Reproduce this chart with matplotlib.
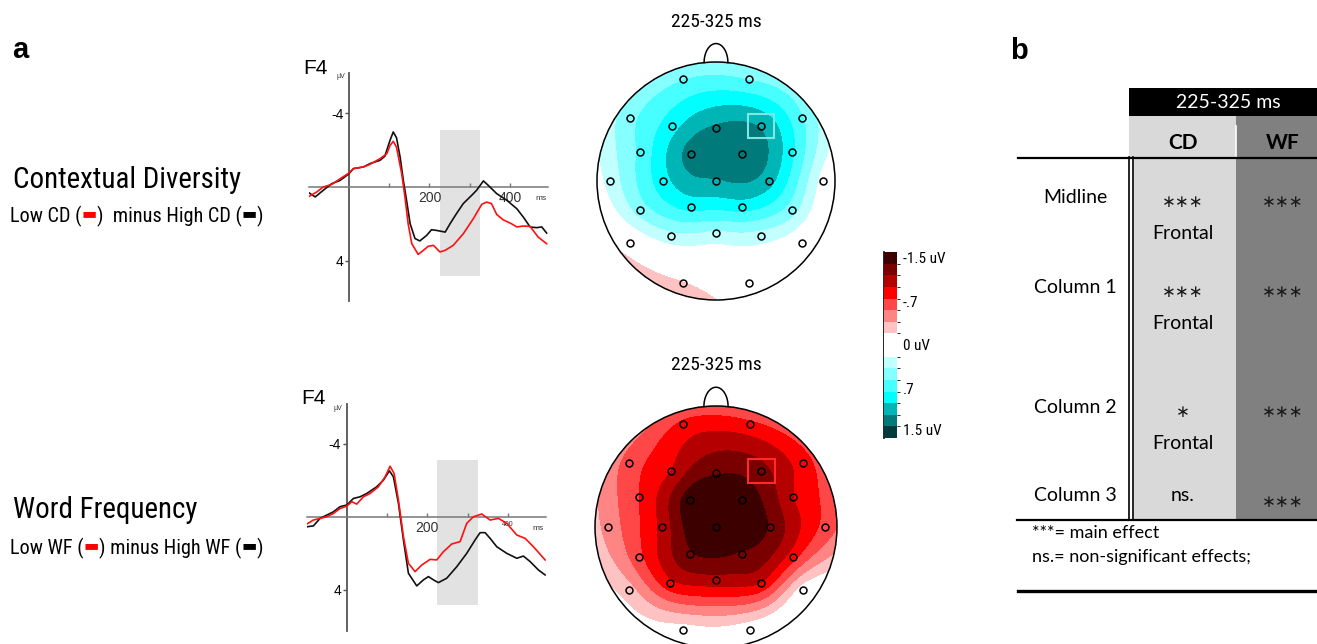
import numpy as np
import matplotlib
matplotlib.use("Agg")
from matplotlib import pyplot as plt
from matplotlib import font_manager as fm
from matplotlib.colors import ListedColormap, BoundaryNorm
from matplotlib.patches import Circle, Rectangle
from matplotlib.cm import ScalarMappable

W, H = 1317, 644

_names = {f.name for f in fm.fontManager.ttflist}
NARROW = ["DejaVu Sans"]
for cand in ["Liberation Sans Narrow", "Arial Narrow", "Roboto Condensed", "Open Sans Condensed",
             "Liberation Sans"]:
    if cand in _names:
        NARROW = [cand, "DejaVu Sans"]
        break
ARIAL = ["Liberation Sans", "DejaVu Sans"]
TABLE = ["Lato", "DejaVu Sans"]

# ---- ERP at F4 (ms, uV); negative plotted up ----
cd_high_ms = [-98.5, -84, -64, -43, -22, 0, 11, 36, 52, 77, 89, 102, 110, 118, 127, 135, 143, 152, 164,
              176, 193, 205, 218, 239, 251, 267, 284, 305, 317, 334, 346, 367, 392, 417, 433, 450, 466, 479, 491]
cd_high_uv = [0.33, 0.54, 0.18, -0.18, -0.36, -0.72, -1.0, -1.09, -1.27, -1.45, -1.67, -2.54, -2.99, -2.68,
              -1.63, -0.36, 0.72, 2.0, 2.8, 2.93, 2.63, 2.32, 2.36, 2.45, 2.0, 1.45, 0.9, 0.45, 0.18, -0.33,
              -0.09, 0.36, 0.72, 1.18, 1.63, 2.17, 2.21, 2.17, 2.5]
cd_low_ms = [-98.5, -80, -64, -43, -22, 0, 11, 36, 52, 77, 94, 102, 110, 118, 131, 139, 147, 156, 172, 185,
             197, 210, 226, 239, 259, 284, 309, 330, 342, 354, 367, 383, 404, 417, 433, 450, 470, 491]
cd_low_uv = [0.5, 0.27, 0, -0.14, -0.45, -0.76, -1.0, -1.09, -1.23, -1.54, -1.81, -2.26, -2.48, -2.17, -0.72,
             0.54, 2.0, 3.08, 3.66, 3.44, 3.22, 3.17, 3.53, 3.44, 3.17, 2.54, 1.72, 0.94, 0.82, 0.9, 1.49,
             1.78, 2.0, 2.17, 2.12, 2.14, 2.72, 3.08]

wf_high_ms = [-99.4, -82.8, -66.3, -49.7, -33.1, -16.6, 0, 16.6, 33.1, 49.7, 74.5, 91.1, 106, 115.9, 128.4,
              140.8, 153.2, 173.9, 190.5, 202.9, 215.3, 227.7, 248.4, 273.3, 298.1, 318.8, 331.3, 343.7,
              356.1, 372.7, 397.5, 422.4, 438.9, 455.5, 476.2, 492.8]
wf_high_uv = [0.55, 0.5, 0.09, -0.09, -0.27, -0.55, -0.64, -1.0, -1.09, -1.27, -1.64, -2.0, -2.51, -2.18,
              -0.73, 1.27, 3.09, 3.78, 3.45, 3.27, 3.45, 3.6, 3.36, 2.73, 2.0, 1.27, 0.87, 0.87, 1.18, 1.64,
              2.0, 2.27, 2.15, 2.45, 2.91, 3.18]
wf_low_ms = [-99.4, -82.8, -66.3, -49.7, -33.1, -16.6, 0, 12.4, 24.8, 41.4, 58, 78.7, 95.2, 107.7, 117.6,
             128.4, 140.8, 153.2, 169.8, 186.3, 207, 223.6, 240.2, 260.9, 281.6, 298.1, 314.7, 335.4, 356.1,
             376.8, 397.5, 422.4, 443.1, 463.8, 492.8]
wf_low_uv = [0.4, 0.18, 0.09, 0, -0.18, -0.45, -0.58, -0.82, -0.69, -1.09, -1.27, -1.64, -2.18, -2.76, -2.36,
             -0.91, 1.09, 2.55, 3.0, 2.64, 2.33, 2.36, 1.91, 1.49, 1.36, 0.36, 0, -0.15, 0.18, 0.09, 0.36,
             1.0, 1.18, 1.64, 2.36]

window = (225, 325)

# ---- topographies 225-325 ms ----
elec_names = ["Fp1", "Fp2", "F7", "F3", "Fz", "F4", "F8", "FC5", "FC1", "FC2", "FC6", "T7", "C3", "Cz",
              "C4", "T8", "CP5", "CP1", "CP2", "CP6", "P7", "P3", "Pz", "P4", "P8", "O1", "O2"]
elec_x = [-0.275, 0.279, -0.723, -0.372, 0.0, 0.376, 0.72, -0.639, -0.213, 0.216, 0.639, -0.891, -0.448,
          0.0, 0.448, 0.897, -0.639, -0.213, 0.216, 0.639, -0.723, -0.38, 0.0, 0.376, 0.72, -0.275, 0.279]
elec_y = [0.855, 0.855, 0.527, 0.462, 0.448, 0.462, 0.527, 0.246, 0.224, 0.224, 0.246, 0.0, 0.0, 0.0, 0.0,
          0.0, -0.244, -0.221, -0.221, -0.244, -0.519, -0.462, -0.44, -0.462, -0.519, -0.855, -0.855]
cd_topo = [0.55, 0.55, 0.5, 0.85, 1.15, 1.1, 0.58, 0.6, 1.2, 1.3, 0.78, 0.25, 0.85, 1.1, 1.0, 0.1, 0.45,
           0.8, 0.82, 0.45, -0.05, 0.3, 0.32, 0.28, 0.0, -0.2, -0.05]
wf_topo = [-0.8, -0.8, -0.65, -0.95, -1.3, -1.2, -0.85, -0.75, -1.45, -1.45, -0.95, -0.45, -1.0, -1.5,
           -1.3, -0.7, -0.7, -1.3, -1.3, -0.85, -0.3, -0.9, -1.05, -0.95, -0.1, -0.1, -0.05]

cbar_colors = ["#3c0000", "#7a0000", "#b50000", "#ff0000", "#ff4747", "#ff8585", "#ffc2c2",
               "#ffffff", "#ffffff",
               "#c2ffff", "#85ffff", "#47ffff", "#00ffff", "#00b5b5", "#007a7a", "#003c3c"]
cbar_bounds = np.linspace(-1.5, 1.5, 17)
cbar_ticks = [-1.5, -0.7, 0, 0.7, 1.5]
cbar_labels = ["-1.5 uV", "-.7", "0 uV", ".7", "1.5 uV"]

# ---- table (panel b) ----
tab_rows = ["Midline", "Column 1", "Column 2", "Column 3"]
tab_cd = ["***", "***", "*", "ns."]
tab_cd_loc = ["Frontal", "Frontal", "Frontal", ""]
tab_wf = ["***", "***", "***", "***"]
tab_notes = ["***= main effect", "ns.= non-significant effects;"]


def px_axes(fig, x0, y0, x1, y1):
    return fig.add_axes([x0 / W, 1 - y1 / H, (x1 - x0) / W, (y1 - y0) / H])


def biharmonic(xe, ye, ve, gx, gy):
    xe, ye = np.asarray(xe), np.asarray(ye)
    d = np.hypot(xe[:, None] - xe[None, :], ye[:, None] - ye[None, :])
    G = np.where(d > 0, d ** 2 * (np.log(np.where(d > 0, d, 1)) - 1), 0)
    w = np.linalg.solve(G, np.asarray(ve))
    dg = np.hypot(gx.ravel()[:, None] - xe[None, :], gy.ravel()[:, None] - ye[None, :])
    Gg = np.where(dg > 0, dg ** 2 * (np.log(np.where(dg > 0, dg, 1)) - 1), 0)
    return (Gg @ w).reshape(gx.shape)


def fit_text(fig, ax, x, y, s, width_px, **kw):
    # size the text so it spans about the same width as in the figure
    renderer = fig.canvas.get_renderer()
    t = ax.text(x, y, s, fontsize=12, **kw)
    w = t.get_window_extent(renderer).width
    t.set_fontsize(12 * width_px / w)
    return t


def seq_text(fig, ax, x, y, parts, width_px):
    renderer = fig.canvas.get_renderer()

    def draw(size):
        xx = x
        made = []
        for s, col, dash in parts:
            if dash:
                t = ax.text(xx, y - 0.28 * size, "\u25ac", color=col, fontsize=size * 0.8,
                            family=["DejaVu Sans"], ha="left", va="baseline")
            else:
                t = ax.text(xx, y, s, color=col, fontsize=size, family=NARROW, ha="left", va="baseline")
            bb = t.get_window_extent(renderer)
            xx = ax.transData.inverted().transform((bb.x1, bb.y0))[0]
            made.append(t)
        return made, xx - x

    made, w = draw(12)
    for t in made:
        t.remove()
    draw(12 * width_px / w)


def erp_panel(fig, box, series, small400=False):
    x0, y0, x1, y1, ylim = box
    ax = px_axes(fig, x0, y0, x1, y1)
    ax.set_xlim(-100, 495)
    ax.set_ylim(*ylim)
    ax.patch.set_visible(False)
    ax.add_patch(Rectangle((window[0], -3.1), window[1] - window[0], 7.95, color="#e2e2e2", lw=0, zorder=0))
    for ms, uv, col in series:
        ax.plot(ms, uv, color=col, lw=1.2, zorder=3)
    for s in ["top", "right"]:
        ax.spines[s].set_visible(False)
    ax.spines["left"].set_position(("data", 0))
    ax.spines["bottom"].set_position(("data", 0))
    ax.spines["left"].set_color("#555555")
    ax.spines["bottom"].set_color("#777777")
    ax.spines["left"].set_linewidth(1.3)
    ax.spines["bottom"].set_linewidth(1.1)
    ax.set_yticks([-4, 4])
    ax.set_yticklabels(["-4", "4"], fontsize=10, family=ARIAL)
    ax.set_xticks([200, 400])
    ax.set_xticks([100, 300], minor=True)
    ax.set_xticklabels(["200", "400"], fontsize=10, family=ARIAL, color="#333333")
    ax.tick_params(axis="y", direction="out", length=3, width=1, color="#555555", pad=1)
    ax.tick_params(axis="x", which="both", direction="in", length=3, width=1, color="#777777", pad=3)
    if small400:
        ax.get_xticklabels()[1].set_fontsize(5)
    return ax


def topo_panel(fig, cx, cy, r, values, box_color):
    ax = px_axes(fig, cx - 1.25 * r, cy - 1.45 * r, cx + 1.25 * r, cy + 1.2 * r)
    ax.set_xlim(-1.25, 1.25)
    ax.set_ylim(-1.2, 1.45)
    ax.axis("off")
    g = np.linspace(-1.02, 1.02, 301)
    gx, gy = np.meshgrid(g, g)
    z = biharmonic(elec_x, elec_y, values, gx, gy)
    head = Circle((0, 0), 1.0, fill=False, ec="black", lw=1.1, zorder=4)
    ax.add_patch(head)
    cs = ax.contourf(gx, gy, z, levels=cbar_bounds, cmap=cmap, norm=norm, extend="both", zorder=1)
    cs.set_clip_path(head)
    t = np.linspace(0, np.pi, 60)
    ax.plot(0.1 * np.cos(t), 0.995 + 0.16 * np.sin(t), color="black", lw=1.1)
    ax.plot(elec_x, elec_y, "o", mfc="none", mec="black", ms=5, mew=1.1, zorder=5)
    i = elec_names.index("F4")
    ax.add_patch(Rectangle((elec_x[i] - 0.11, elec_y[i] - 0.1), 0.22, 0.2, fill=False,
                           ec=box_color, lw=1.5, zorder=5))
    fit_text(fig, ax, 0, 1.34, "225-325 ms", 90, ha="center", va="center", family=NARROW)
    return ax


cmap = ListedColormap(cbar_colors)
cmap.set_under(cbar_colors[0])
cmap.set_over(cbar_colors[-1])
norm = BoundaryNorm(cbar_bounds, cmap.N)


def main():
    fig = plt.figure(figsize=(W / 100, H / 100), dpi=100)
    page = fig.add_axes([0, 0, 1, 1])
    page.set_xlim(0, W)
    page.set_ylim(H, 0)
    page.axis("off")

    # panel a labels
    page.text(12, 58, "a", fontsize=21, fontweight="bold", family=ARIAL)
    fit_text(fig, page, 13, 188, "Contextual Diversity", 228, family=NARROW)
    seq_text(fig, page, 10, 222, [("Low CD (", "black", False), ("-", "red", True),
                                  (")  minus High CD (", "black", False), ("-", "black", True),
                                  (")", "black", False)], 253)
    fit_text(fig, page, 13, 518, "Word Frequency", 184, family=NARROW)
    seq_text(fig, page, 10, 554, [("Low WF (", "black", False), ("-", "red", True),
                                  (") minus High WF (", "black", False), ("-", "black", True),
                                  (")", "black", False)], 253)

    # ERP panels
    erp_panel(fig, (308.75, 72.9, 548.2, 301.1, (6.2, -6.2)),
              [(cd_high_ms, cd_high_uv, "#111111"), (cd_low_ms, cd_low_uv, "#ff1010")])
    erp_panel(fig, (306.5, 404.2, 546.0, 631.1, (6.25, -6.15)),
              [(wf_high_ms, wf_high_uv, "#111111"), (wf_low_ms, wf_low_uv, "#ff1010")], small400=True)
    for (fx, fy), (ux, uy), (mx, my) in [((315, 68), (341, 76), (541, 198)),
                                         ((313, 398), (338, 408), (538, 528))]:
        page.text(fx, fy, "F4", fontsize=15, family=ARIAL, ha="center", va="center")
        page.text(ux, uy, "\u00b5V", fontsize=5, family=ARIAL, ha="center", va="center", color="#333333")
        page.text(mx, my, "ms", fontsize=6, family=ARIAL, ha="center", va="center", color="#333333")

    # topographies
    topo_panel(fig, 716, 181, 119, cd_topo, "#7fe6e6")
    topo_panel(fig, 716, 527, 121, wf_topo, "#ff2a2a")

    # colorbar
    cax = px_axes(fig, 884, 252, 897, 438)
    cb = fig.colorbar(ScalarMappable(norm=norm, cmap=cmap), cax=cax, ticks=cbar_ticks)
    cax.set_ylim(1.5, -1.5)
    cb.outline.set_visible(False)
    cax.set_yticklabels(cbar_labels, fontsize=11, family=NARROW)
    cax.tick_params(length=0, pad=4)
    labs = cax.get_yticklabels()
    labs[0].set_verticalalignment("top")
    labs[-1].set_verticalalignment("bottom")
    page.plot([883.5, 883.5], [252, 438], color="black", lw=1.2)

    # panel b: table
    page.text(1010, 59, "b", fontsize=21, fontweight="bold", family=ARIAL)
    page.add_patch(Rectangle((1129, 88), W - 1129, 28, color="black", lw=0))
    page.add_patch(Rectangle((1129, 116), 107, 404, color="#d9d9d9", lw=0))
    page.add_patch(Rectangle((1236, 116), W - 1236, 404, color="#808080", lw=0))
    page.plot([1236, 1236], [126, 157], color="white", lw=1.2)
    page.add_patch(Rectangle((1127, 157), 7, 363, color="white", lw=0))
    page.plot([1128.5, 1128.5], [157, 520], color="black", lw=1.2)
    page.plot([1132.5, 1132.5], [157, 520], color="black", lw=1.2)
    page.plot([1018, W], [157.5, 157.5], color="black", lw=1.6)
    page.plot([1017, W], [520, 520], color="black", lw=1.6)
    page.plot([1018, W], [591, 591], color="black", lw=2.4)
    page.text(1228, 102, "225-325 ms", color="white", fontsize=14, family=TABLE, ha="center", va="center")
    page.text(1183, 143, "CD", fontsize=15, fontweight="bold", family=TABLE, ha="center", va="center")
    page.text(1283, 143, "WF", fontsize=15, fontweight="bold", family=TABLE, ha="center", va="center")
    row_y = [197, 287, 407, 495]

    def sig_text(x, y, s):
        if s.startswith("*"):
            page.text(x, y + 5, s.replace("*", "\u2217"), fontsize=12, family=["DejaVu Sans"],
                      ha="center", va="center", color="#1a1a1a")
        else:
            page.text(x, y, s, fontsize=14, family=TABLE, ha="center", va="center")

    for y, name, cd, loc, wf in zip(row_y, tab_rows, tab_cd, tab_cd_loc, tab_wf):
        page.text(1075, y, name, fontsize=14, family=TABLE, ha="center", va="center")
        sig_text(1183, y, cd)
        page.text(1183, y + 36, loc, fontsize=14, family=TABLE, ha="center", va="center")
        sig_text(1283, y + (2 if name == "Column 3" else 0), wf)
    for y, note in zip([533, 557], tab_notes):
        page.text(1032, y, note, fontsize=13, family=TABLE, ha="left", va="center")

    fig.savefig("out.png", dpi=100, facecolor="white")


if __name__ == "__main__":
    main()
